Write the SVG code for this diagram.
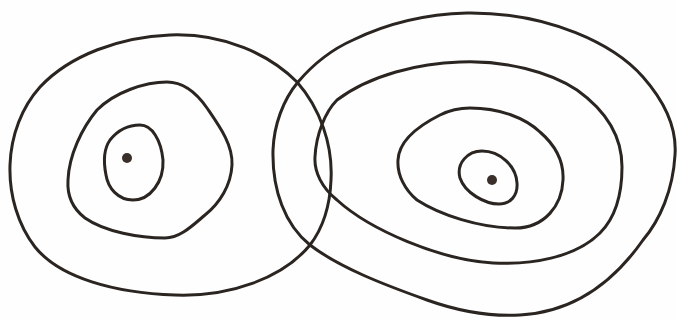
<svg xmlns="http://www.w3.org/2000/svg" width="677" height="320" viewBox="0 0 677 320">
<style>
.c{fill:none;stroke:#2b2522;stroke-width:3;stroke-linejoin:round;stroke-linecap:round}
.d{fill:#3a2f2a}
</style>
<rect width="677" height="320" fill="#fefefe"/>
<g id="left">
<path class="c" d="M170,35 C225,33 270,55 297,82 C320,108 333,145 331,180 C330,205 323,228 310,245 C283,278 230,297 175,295 C115,293 60,278 35,247 C18,225 9,195 10,165 C11,135 22,107 40,87 C70,55 120,37 170,35 Z"/>
<path class="c" d="M167,82 C185,82 198,95 207,108 C220,127 233,145 232,165 C231,185 220,203 205,215 C192,226 180,238 165,238 C140,238 105,232 85,218 C72,208 67,195 68,180 C69,155 82,128 97,110 C115,92 145,82 167,82 Z"/>
<path class="c" d="M140,125 C152,125 161,140 163,160 C164,182 150,200 133,200 C118,200 108,188 106,175 C104,165 103,150 110,140 C118,130 128,125 140,125 Z"/>
<circle class="d" cx="127" cy="158" r="5"/>
</g>
<g id="right">
<path class="c" d="M467,13 C550,12 615,45 643,77 C665,102 677,128 675,155 C673,190 660,220 643,240 C615,280 575,312 520,315 C485,317 455,310 427,300 C385,285 340,268 310,245 C285,225 272,190 273,150 C274,125 283,100 298,82 C315,62 335,48 353,40 C390,22 430,14 467,13 Z"/>
<path class="c" d="M460,62 C505,60 550,72 577,90 C605,110 622,135 622,167 C622,195 615,218 600,233 C575,258 530,265 493,263 C440,260 370,230 337,200 C322,188 314,172 315,157 C316,135 325,112 337,100 C370,75 420,63 460,62 Z"/>
<path class="c" d="M470,108 C500,108 525,118 540,132 C555,145 564,162 563,180 C562,205 545,228 515,228 C480,228 440,215 417,200 C405,190 397,175 398,160 C399,140 420,125 440,115 C450,110 460,108 470,108 Z"/>
<path class="c" d="M482,151 C500,151 516,166 517,183 C518,196 510,204 499,204 C485,204 465,193 460,178 C456,163 468,151 482,151 Z"/>
<circle class="d" cx="492" cy="180" r="5"/>
</g>
</svg>
